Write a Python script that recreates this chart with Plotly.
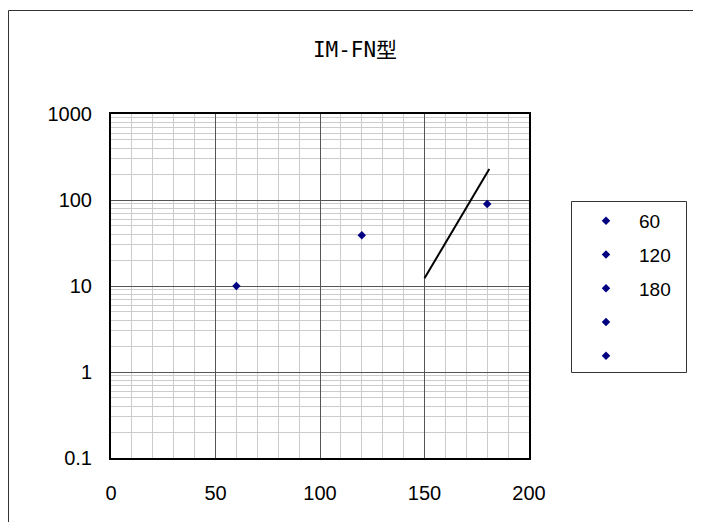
import plotly.graph_objects as go

# data
series_names = ["60", "120", "180", " ", "  "]
series_x = [[60], [120], [180], [None], [None]]
series_y = [[10], [39], [90], [None], [None]]
line_x = [150, 181]
line_y = [12.3, 229]
y_tickvals = [0.1, 1, 10, 100, 1000]
y_ticktext = ["0.1", "1", "10", "100", "1000"]
x_tickvals = [0, 50, 100, 150, 200]

# page body has an 8px margin; work in screen pixels and convert
OFF = 8
W, H = 701 - 2 * OFF, 530 - 2 * OFF
L, R, T, B = 111 - OFF, 529 - OFF, 114 - OFF, 458 - OFF
pw, ph = R - L, B - T

def px(x):
    return (x - OFF - L) / pw

def py(y):
    return (B - (y - OFF)) / ph

fig = go.Figure()
for n, xs, ys in zip(series_names, series_x, series_y):
    fig.add_trace(go.Scatter(x=xs, y=ys, name=n, mode="markers", legendgroup=n,
                             marker=dict(symbol="diamond", size=6.5, color="#000080")))
fig.add_trace(go.Scatter(x=line_x, y=line_y, mode="lines", showlegend=False,
                         line=dict(color="black", width=2)))

numfont = dict(family="Liberation Sans, Arial, sans-serif", size=20, color="black")
legfont = dict(family="Liberation Sans, Arial, sans-serif", size=19, color="black")

fig.update_layout(
    width=W, height=H,
    margin=dict(l=L, r=W - R, t=T, b=H - B),
    paper_bgcolor="white", plot_bgcolor="white",
    title=dict(text="IM-FN型", x=(355 - OFF) / W, xref="container", xanchor="center",
               y=1 - (50 - OFF) / H, yanchor="middle",
               font=dict(family="DejaVu Sans Mono, Noto Sans CJK JP", size=21, color="black")),
    xaxis=dict(range=[0, 200], tickvals=x_tickvals, showgrid=True, automargin=False,
               gridcolor="#555555", gridwidth=1, zeroline=False,
               showline=True, linecolor="black", linewidth=2, mirror=True,
               ticks="", tickfont=numfont, ticklabelstandoff=16,
               minor=dict(dtick=10, showgrid=True, gridcolor="#cccccc", gridwidth=1)),
    yaxis=dict(type="log", range=[-1, 3], tickvals=y_tickvals, ticktext=y_ticktext,
               showgrid=True, gridcolor="#555555", gridwidth=1, zeroline=False,
               automargin=False,
               showline=True, linecolor="black", linewidth=2, mirror=True,
               ticks="", tickfont=numfont, ticklabelstandoff=13,
               minor=dict(dtick="D1", showgrid=True, gridcolor="#cccccc", gridwidth=1)),
    legend=dict(x=px(573), y=py(202), xanchor="left", yanchor="top",
                font=legfont, borderwidth=0, bgcolor="rgba(0,0,0,0)",
                tracegroupgap=6, itemwidth=56),
    showlegend=True,
)

# legend frame
fig.add_shape(type="rect", xref="paper", yref="paper",
              x0=px(571.5), x1=px(686.5), y0=py(372.5), y1=py(201.5),
              line=dict(color="#333333", width=1), layer="above")
# chart outer frame (only left and top edges are visible in the window)
fig.add_shape(type="line", xref="paper", yref="paper",
              x0=px(8.5), x1=px(8.5), y0=py(560), y1=py(10.5),
              line=dict(color="#333333", width=1), layer="above")
fig.add_shape(type="line", xref="paper", yref="paper",
              x0=px(8.5), x1=px(760), y0=py(10.5), y1=py(10.5),
              line=dict(color="#333333", width=1), layer="above")

fig.write_html("out.html")
